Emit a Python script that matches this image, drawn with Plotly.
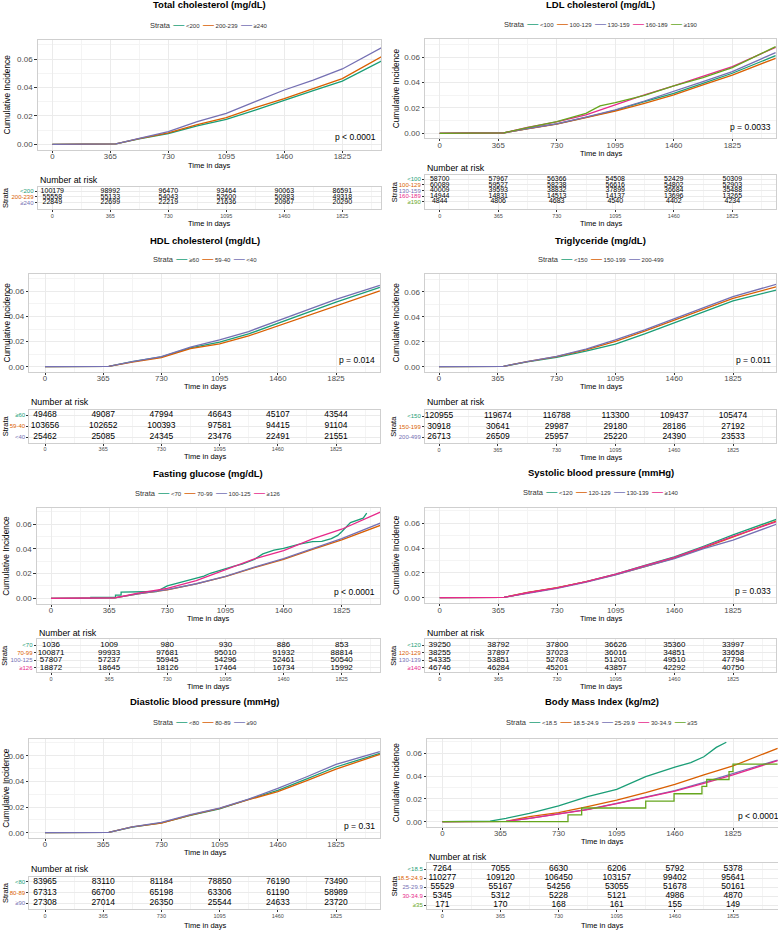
import plotly.graph_objects as go

W, H = 778, 930
DARK2 = ["#1B9E77", "#D95F02", "#7570B3", "#E7298A", "#66A61E"]
FONT = "Liberation Sans, Arial, sans-serif"

# ---------------- shared axis values ----------------
risk_times = [0, 365, 730, 1095, 1460, 1825]
x_ticks = [0, 365, 730, 1095, 1460, 1825]
x_minor = [182.5, 547.5, 912.5, 1277.5, 1642.5, 2007.5]
y_ticks = [0.0, 0.02, 0.04, 0.06]
y_minor = [0.01, 0.03, 0.05, 0.07]

# ---------------- Total cholesterol ----------------
tc_strata = ["<200", "200-239", "≥240"]
tc_days = [0, 365, 400, 547, 730, 912, 1095, 1277, 1460, 1642, 1825, 2075]
tc_lt200 = [0, 0, 0.0003, 0.0038, 0.0076, 0.0129, 0.0176, 0.0241, 0.0307, 0.0377, 0.0445, 0.0588]
tc_200_239 = [0, 0, 0.0003, 0.0040, 0.0080, 0.0138, 0.0187, 0.0258, 0.0321, 0.0391, 0.0462, 0.0618]
tc_ge240 = [0, 0, 0.0003, 0.0042, 0.0090, 0.0160, 0.0218, 0.0300, 0.0382, 0.0452, 0.0530, 0.0682]
tc_risk = [[100179, 98992, 96470, 93464, 90063, 86591],
           [55558, 55133, 54043, 52600, 50983, 49318],
           [22849, 22699, 22219, 21636, 20967, 20290]]

# ---------------- LDL cholesterol ----------------
ldl_strata = ["<100", "100-129", "130-159", "160-189", "≥190"]
ldl_days = [0, 365, 400, 547, 730, 912, 1000, 1095, 1277, 1460, 1642, 1825, 2095]
ldl_lt100 = [0, 0, 0.0003, 0.0038, 0.0074, 0.0126, 0.0152, 0.0181, 0.0250, 0.0316, 0.0395, 0.0474, 0.0613]
ldl_100_129 = [0, 0, 0.0003, 0.0036, 0.0072, 0.0124, 0.0148, 0.0176, 0.0237, 0.0303, 0.0382, 0.0460, 0.0592]
ldl_130_159 = [0, 0, 0.0003, 0.0038, 0.0075, 0.0128, 0.0155, 0.0185, 0.0255, 0.0329, 0.0408, 0.0487, 0.0637]
ldl_160_189 = [0, 0, 0.0004, 0.0047, 0.0090, 0.0145, 0.0184, 0.0224, 0.0303, 0.0374, 0.0447, 0.0526, 0.0679]
ldl_ge190 = [0, 0, 0.0004, 0.0045, 0.0092, 0.0158, 0.0216, 0.0242, 0.0300, 0.0374, 0.0440, 0.0518, 0.0684]
ldl_risk = [[58700, 57967, 56366, 54508, 52429, 50309],
            [60089, 59527, 58238, 56616, 54802, 52903],
            [40009, 39593, 38832, 37899, 36684, 35488],
            [14944, 14831, 14513, 14137, 13696, 13265],
            [4844, 4806, 4683, 4540, 4402, 4234]]

# ---------------- HDL cholesterol ----------------
hdl_strata = ["≥60", "59-40", "<40"]
hdl_days = [0, 365, 400, 547, 730, 912, 1095, 1277, 1460, 1642, 1825, 2100]
hdl_ge60 = [0, 0, 0.0003, 0.0040, 0.0078, 0.0150, 0.0195, 0.0261, 0.0346, 0.0430, 0.0513, 0.0632]
hdl_59_40 = [0, 0, 0.0003, 0.0037, 0.0072, 0.0143, 0.0181, 0.0245, 0.0324, 0.0407, 0.0486, 0.0603]
hdl_lt40 = [0, 0, 0.0003, 0.0041, 0.0080, 0.0155, 0.0213, 0.0280, 0.0367, 0.0451, 0.0536, 0.0648]
hdl_risk = [[49468, 49087, 47994, 46643, 45107, 43544],
            [103656, 102652, 100393, 97581, 94415, 91104],
            [25462, 25085, 24345, 23476, 22491, 21551]]

# ---------------- Triglyceride ----------------
tg_strata = ["<150", "150-199", "200-499"]
tg_days = [0, 365, 400, 547, 730, 912, 1095, 1277, 1460, 1642, 1825, 2095]
tg_lt150 = [0, 0, 0.0003, 0.0038, 0.0075, 0.0125, 0.0181, 0.0262, 0.0349, 0.0438, 0.0527, 0.0614]
tg_150_199 = [0, 0, 0.0003, 0.0040, 0.0080, 0.0135, 0.0203, 0.0284, 0.0370, 0.0457, 0.0546, 0.0640]
tg_200_499 = [0, 0, 0.0003, 0.0041, 0.0082, 0.0140, 0.0214, 0.0295, 0.0384, 0.0473, 0.0560, 0.0660]
tg_risk = [[120955, 119674, 116788, 113300, 109437, 105474],
           [30918, 30641, 29987, 29180, 28186, 27192],
           [26713, 26509, 25957, 25220, 24390, 23533]]

# ---------------- Fasting glucose ----------------
fg_strata = ["<70", "70-99", "100-125", "≥126"]
fg_days = [0, 365, 400, 547, 730, 912, 1095, 1277, 1460, 1642, 1825, 2075]
fg_lt70_days = [0, 250, 250, 405, 405, 440, 440, 600, 663, 730, 790, 850, 912, 960, 1000, 1050,
                1095, 1150, 1200, 1277, 1330, 1400, 1460, 1560, 1642, 1700, 1760, 1800, 1825, 1880,
                1960, 1982]
fg_lt70 = [0, 0, 0.0008, 0.0008, 0.0025, 0.0025, 0.0050, 0.0050, 0.0055, 0.0100, 0.0120, 0.0140,
           0.0162, 0.0180, 0.0203, 0.0220, 0.0238, 0.0260, 0.0278, 0.0316, 0.0360, 0.0390, 0.0405,
           0.0440, 0.0460, 0.0462, 0.0484, 0.0510, 0.0540, 0.0614, 0.0650, 0.0690]
fg_70_99 = [0, 0, 0.0003, 0.0037, 0.0068, 0.0116, 0.0176, 0.0249, 0.0316, 0.0397, 0.0473, 0.0595]
fg_100_125 = [0, 0, 0.0003, 0.0036, 0.0070, 0.0118, 0.0178, 0.0252, 0.0322, 0.0402, 0.0484, 0.0614]
fg_ge126 = [0, 0, 0.0003, 0.0042, 0.0081, 0.0143, 0.0230, 0.0319, 0.0386, 0.0481, 0.0560, 0.0703]
fg_risk = [[1036, 1009, 980, 930, 886, 853],
           [100871, 99933, 97681, 95010, 91932, 88814],
           [57807, 57237, 55945, 54296, 52461, 50540],
           [18872, 18645, 18126, 17464, 16734, 15992]]

# ---------------- Systolic blood pressure ----------------
sbp_strata = ["<120", "120-129", "130-139", "≥140"]
sbp_days = [0, 365, 400, 547, 730, 912, 1095, 1277, 1460, 1642, 1825, 2095]
sbp_lt120 = [0, 0, 0.0003, 0.0040, 0.0080, 0.0130, 0.0190, 0.0260, 0.0330, 0.0415, 0.0506, 0.0632]
sbp_120_129 = [0, 0, 0.0003, 0.0042, 0.0082, 0.0130, 0.0186, 0.0250, 0.0320, 0.0402, 0.0490, 0.0619]
sbp_130_139 = [0, 0, 0.0003, 0.0036, 0.0076, 0.0126, 0.0184, 0.0250, 0.0316, 0.0395, 0.0465, 0.0592]
sbp_ge140 = [0, 0, 0.0003, 0.0040, 0.0080, 0.0130, 0.0190, 0.0258, 0.0325, 0.0408, 0.0495, 0.0613]
sbp_risk = [[39250, 38792, 37800, 36626, 35360, 33997],
            [38255, 37897, 37023, 36016, 34851, 33658],
            [54335, 53851, 52708, 51201, 49510, 47794],
            [46746, 46284, 45201, 43857, 42292, 40750]]

# ---------------- Diastolic blood pressure ----------------
dbp_strata = ["<80", "80-89", "≥90"]
dbp_days = [0, 365, 400, 547, 730, 912, 1095, 1277, 1460, 1642, 1825, 2100]
dbp_lt80 = [0, 0, 0.0003, 0.0044, 0.0077, 0.0135, 0.0186, 0.0260, 0.0330, 0.0420, 0.0512, 0.0618]
dbp_80_89 = [0, 0, 0.0003, 0.0045, 0.0075, 0.0137, 0.0190, 0.0257, 0.0320, 0.0405, 0.0496, 0.0610]
dbp_ge90 = [0, 0, 0.0003, 0.0046, 0.0080, 0.0140, 0.0192, 0.0262, 0.0345, 0.0436, 0.0532, 0.0631]
dbp_risk = [[83965, 83110, 81184, 78850, 76190, 73490],
            [67313, 66700, 65198, 63306, 61190, 58989],
            [27308, 27014, 26350, 25544, 24633, 23720]]

# ---------------- Body mass index ----------------
bmi_strata = ["<18.5", "18.5-24.9", "25-29.9", "30-34.9", "≥35"]
bmi_days = [0, 365, 400, 547, 730, 912, 1095, 1277, 1460, 1642, 1825, 2105]
bmi_lt185_days = [0, 300, 400, 547, 730, 912, 1095, 1200, 1277, 1460, 1560, 1642, 1720, 1783]
bmi_lt185 = [0, 0.0005, 0.0030, 0.0073, 0.0138, 0.0220, 0.0284, 0.0350, 0.0395, 0.0478, 0.0518,
             0.0570, 0.0652, 0.0697]
bmi_185_249 = [0, 0, 0.0003, 0.0044, 0.0079, 0.0132, 0.0190, 0.0255, 0.0328, 0.0410, 0.0489, 0.0644]
bmi_25_299 = [0, 0, 0.0002, 0.0030, 0.0067, 0.0108, 0.0161, 0.0215, 0.0272, 0.0345, 0.0420, 0.0541]
bmi_30_349 = [0, 0, 0.0002, 0.0030, 0.0065, 0.0105, 0.0158, 0.0212, 0.0268, 0.0337, 0.0410, 0.0536]
bmi_ge35_days = [0, 789, 875, 1277, 1455, 1630, 1660, 1800, 1825, 2105]
bmi_ge35 = [0, 0.0060, 0.0120, 0.0180, 0.0245, 0.0310, 0.0370, 0.0440, 0.0505, 0.0505]
bmi_risk = [[7264, 7055, 6630, 6206, 5792, 5378],
            [110277, 109120, 106450, 103157, 99402, 95641],
            [55529, 55167, 54256, 53055, 51678, 50161],
            [5345, 5312, 5228, 5121, 4986, 4870],
            [171, 170, 168, 161, 155, 149]]

# ---------------- panel assembly ----------------
panels = [
    dict(title="Total cholesterol (mg/dL)", strata=tc_strata, p="p < 0.0001", risk=tc_risk,
         curves=[(tc_days, tc_lt200, "linear"), (tc_days, tc_200_239, "linear"), (tc_days, tc_ge240, "linear")]),
    dict(title="LDL cholesterol (mg/dL)", strata=ldl_strata, p="p = 0.0033", risk=ldl_risk,
         curves=[(ldl_days, ldl_lt100, "linear"), (ldl_days, ldl_100_129, "linear"),
                 (ldl_days, ldl_130_159, "linear"), (ldl_days, ldl_160_189, "linear"),
                 (ldl_days, ldl_ge190, "linear")]),
    dict(title="HDL cholesterol (mg/dL)", strata=hdl_strata, p="p = 0.014", risk=hdl_risk,
         curves=[(hdl_days, hdl_ge60, "linear"), (hdl_days, hdl_59_40, "linear"), (hdl_days, hdl_lt40, "linear")]),
    dict(title="Triglyceride (mg/dL)", strata=tg_strata, p="p = 0.011", risk=tg_risk,
         curves=[(tg_days, tg_lt150, "linear"), (tg_days, tg_150_199, "linear"), (tg_days, tg_200_499, "linear")]),
    dict(title="Fasting glucose (mg/dL)", strata=fg_strata, p="p < 0.0001", risk=fg_risk,
         curves=[(fg_lt70_days, fg_lt70, "linear"), (fg_days, fg_70_99, "linear"),
                 (fg_days, fg_100_125, "linear"), (fg_days, fg_ge126, "linear")]),
    dict(title="Systolic blood pressure (mmHg)", strata=sbp_strata, p="p = 0.033", risk=sbp_risk,
         curves=[(sbp_days, sbp_lt120, "linear"), (sbp_days, sbp_120_129, "linear"),
                 (sbp_days, sbp_130_139, "linear"), (sbp_days, sbp_ge140, "linear")]),
    dict(title="Diastolic blood pressure (mmHg)", strata=dbp_strata, p="p = 0.31", risk=dbp_risk,
         curves=[(dbp_days, dbp_lt80, "linear"), (dbp_days, dbp_80_89, "linear"), (dbp_days, dbp_ge90, "linear")]),
    dict(title="Body Mass Index (kg/m2)", strata=bmi_strata, p="p < 0.0001", risk=bmi_risk,
         curves=[(bmi_lt185_days, bmi_lt185, "linear"), (bmi_days, bmi_185_249, "linear"),
                 (bmi_days, bmi_25_299, "linear"), (bmi_days, bmi_30_349, "linear"),
                 (bmi_ge35_days, bmi_ge35, "hv")]),
]

# layout geometry (pixels)
geoms = [
    dict(L=37.7, R=381, T=40, B=150, x0=52.3, x1=342.3, y0=144.3, y6=59,
         tT=186.7, tB=209.3, r1=191, rn=202.7, ty=5, ly=24, tday=165, nar=180, tday2=223.3, col=0, fs=7.0),
    dict(L=425, R=776, T=39.3, B=138.3, x0=439.7, x1=732.3, y0=133.3, y6=57.3,
         tT=175, tB=209.3, r1=179.3, rn=201.7, ty=5, ly=23.3, tday=153.7, nar=168.3, tday2=223.3, col=1, fs=7.0),
    dict(L=29.3, R=380, T=274.3, B=371.7, x0=45, x1=336, y0=366.7, y6=291.3,
         tT=410, tB=442.7, r1=415.3, rn=437.3, ty=240, ly=257.7, tday=386.7, nar=402.3, tday2=456.7, col=0, fs=8.5),
    dict(L=425, R=776, T=274.3, B=371.7, x0=439, x1=733, y0=366.7, y6=291.7,
         tT=410, tB=443.3, r1=416, rn=437.3, ty=240, ly=257.7, tday=386.7, nar=402.3, tday2=457, col=1, fs=8.5),
    dict(L=36.7, R=380, T=508.3, B=604, x0=51, x1=341.7, y0=598.3, y6=524.3,
         tT=639.3, tB=672.3, r1=645, rn=667.7, ty=474, ly=492.3, tday=618.8, nar=632.7, tday2=686, col=0, fs=8.0),
    dict(L=425, R=776, T=507.7, B=603.3, x0=439.7, x1=733, y0=597.7, y6=523.3,
         tT=639.3, tB=672.3, r1=645, rn=667.7, ty=472.7, ly=491, tday=618.3, nar=632.7, tday2=686, col=1, fs=8.0),
    dict(L=29.3, R=380, T=739, B=837.7, x0=45, x1=336, y0=832.7, y6=755.7,
         tT=876.7, tB=909.3, r1=881.7, rn=903.3, ty=701.7, ly=721, tday=852.7, nar=869, tday2=925, col=0, fs=8.5),
    dict(L=427, R=778, T=739, B=826.7, x0=442.3, x1=733, y0=821.7, y6=753.3,
         tT=863.3, tB=909.3, r1=869, rn=905, ty=701.7, ly=721, tday=841.3, nar=856.7, tday2=925, col=1, fs=8.5),
]

GRID = "#EBEBEB"
MINOR = "#F4F4F4"
BORDER = "#CFCFCF"
TICKC = "#4D4D4D"
NB = "\u00a0"

fig = go.Figure()
layout = dict(width=W, height=H, margin=dict(l=0, r=0, t=0, b=0), autosize=False,
              paper_bgcolor="white", plot_bgcolor="white",
              font=dict(family=FONT, color="black"), showlegend=False)
annotations = []


def esc(t):
    return t.replace("<", "&lt;").replace(">", "&gt;")


def ann(text, x, y, size, color="black", xanchor="center", yanchor="middle", angle=0):
    annotations.append(dict(text=text, x=x / W, y=1 - y / H, xref="paper", yref="paper",
                            showarrow=False, xanchor=xanchor, yanchor=yanchor, textangle=angle,
                            font=dict(size=size, color=color, family=FONT)))


def sfx(i):
    return "" if i == 1 else str(i)


for k, (pan, g) in enumerate(zip(panels, geoms)):
    pi, ti = 2 * k + 1, 2 * k + 2
    s = (g["x1"] - g["x0"]) / 1825.0
    xr = [(g["L"] - g["x0"]) / s, (g["R"] - g["x0"]) / s]
    ky = (g["y0"] - g["y6"]) / 0.06
    yr = [(g["y0"] - g["B"]) / ky, (g["y0"] - g["T"]) / ky]

    # --- curves ---
    for j, (days, vals, shape) in enumerate(pan["curves"]):
        fig.add_trace(go.Scatter(x=days, y=vals, mode="lines", name=pan["strata"][j],
                                 line=dict(color=DARK2[j], width=1.3, shape=shape),
                                 xaxis="x" + sfx(pi), yaxis="y" + sfx(pi), showlegend=False,
                                 hoverinfo="skip"))
    # --- risk table ---
    n = len(pan["strata"])
    for j, row in enumerate(pan["risk"]):
        fig.add_trace(go.Scatter(x=risk_times, y=[pan["strata"][j]] * len(risk_times),
                                 mode="text", text=[str(v) for v in row],
                                 textfont=dict(size=g["fs"], color="black", family=FONT),
                                 textposition="middle center", showlegend=False,
                                 xaxis="x" + sfx(ti), yaxis="y" + sfx(ti), hoverinfo="skip",
                                 cliponaxis=False))

    common_x = dict(range=xr, tickmode="array", tickvals=x_ticks, ticks="outside", ticklen=2,
                    tickcolor="#333333", tickwidth=0.8, showgrid=True, gridcolor=GRID, gridwidth=0.8,
                    minor=dict(tickmode="array", tickvals=x_minor, showgrid=True, gridcolor=MINOR,
                               gridwidth=0.6, ticks=""),
                    showline=True, mirror=True, linecolor=BORDER, linewidth=1, zeroline=False,
                    fixedrange=True)
    layout["xaxis" + sfx(pi)] = dict(common_x, domain=[g["L"] / W, min(g["R"] / W, 1)],
                                     anchor="y" + sfx(pi), ticklabelstandoff=-3,
                                     tickfont=dict(size=7.8, color=TICKC, family=FONT))
    layout["yaxis" + sfx(pi)] = dict(domain=[1 - g["B"] / H, 1 - g["T"] / H], anchor="x" + sfx(pi),
                                     range=yr, tickmode="array", tickvals=y_ticks, tickformat=".2f",
                                     ticks="outside", ticklen=2.5, tickcolor="#333333", tickwidth=0.8,
                                     tickfont=dict(size=8, color=TICKC, family=FONT),
                                     showgrid=True, gridcolor=GRID, gridwidth=0.8,
                                     minor=dict(tickmode="array", tickvals=y_minor, showgrid=True,
                                                gridcolor=MINOR, gridwidth=0.6, ticks=""),
                                     showline=True, mirror=True, linecolor=BORDER, linewidth=1,
                                     zeroline=False, fixedrange=True)
    # table axes
    unit = (g["rn"] - g["r1"]) / (n - 1)
    t_range = [(n - 1) + (g["tB"] - g["rn"]) / unit, -(g["r1"] - g["tT"]) / unit]
    layout["xaxis" + sfx(ti)] = dict(common_x, domain=[g["L"] / W, min(g["R"] / W, 1)],
                                     anchor="y" + sfx(ti), ticklabelstandoff=-1,
                                     tickfont=dict(size=5.5, color=TICKC, family=FONT))
    layout["yaxis" + sfx(ti)] = dict(domain=[1 - g["tB"] / H, 1 - g["tT"] / H], anchor="x" + sfx(ti),
                                     type="category", categoryorder="array", categoryarray=pan["strata"],
                                     range=t_range, tickmode="array", tickvals=pan["strata"],
                                     ticktext=['<span style="color:%s">%s</span>' % (DARK2[j], esc(lab))
                                               for j, lab in enumerate(pan["strata"])],
                                     ticks="outside", ticklen=2, tickcolor="#333333", tickwidth=0.8,
                                     tickfont=dict(size=6, family=FONT),
                                     showgrid=True, gridcolor=GRID, gridwidth=0.8,
                                     showline=True, mirror=True, linecolor=BORDER, linewidth=1,
                                     zeroline=False, fixedrange=True)

    cx = (g["L"] + min(g["R"], 776)) / 2
    colx = 0 if g["col"] == 0 else 389
    # legend line (Strata + colour keys)
    parts = ['<span style="font-size:7.5px">Strata</span>']
    for j, lab in enumerate(pan["strata"]):
        parts.append('<span style="color:%s;font-size:11px">—</span>%s%s'
                     % (DARK2[j], NB, esc(lab)))
    ann((NB * 2).join(parts), cx, g["ly"], 6, color="#333333")
    # texts
    ann("<b>" + pan["title"] + "</b>", cx, g["ty"], 9.5)
    ann("Cumulative Incidence", colx + 6.5, (g["T"] + g["B"]) / 2, 8.3, angle=-90)
    ann("Time in days", cx, g["tday"], 7.5)
    ann("Number at risk", g["L"], g["nar"], 8.8, xanchor="left")
    ann("Strata", colx + 5, (g["tT"] + g["tB"]) / 2, 7.5, angle=-90)
    ann("Time in days", cx, g["tday2"], 7.5)
    # p-value (data units in y)
    annotations.append(dict(text=pan["p"], x=(g["R"] - 3) / W if k != 7 else 736 / W,
                            xanchor="right" if k != 7 else "left", xref="paper",
                            y=0.0052, yref="y" + sfx(pi), yanchor="middle", showarrow=False,
                            font=dict(size=8.5, color="black", family=FONT)))

layout["annotations"] = annotations
fig.update_layout(**layout)
fig.write_html("out.html", config={"displayModeBar": False},
               post_script="document.body.style.margin='0px';")
